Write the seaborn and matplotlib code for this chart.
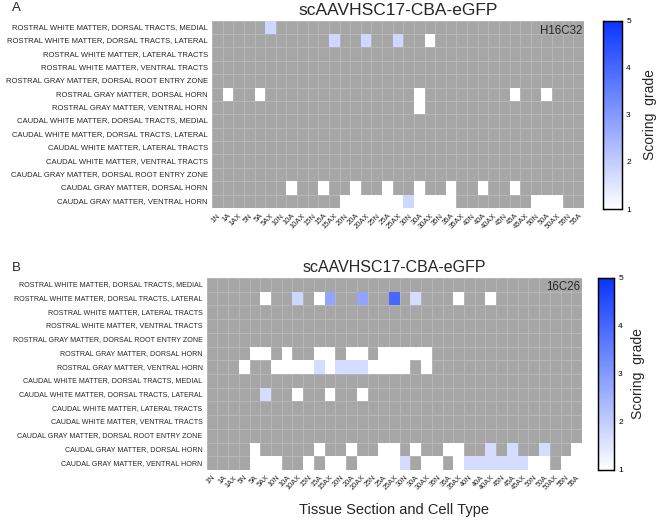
import numpy as np
import pandas as pd
import matplotlib
matplotlib.use("Agg")
import matplotlib.pyplot as plt
import seaborn as sns
from matplotlib.colors import LinearSegmentedColormap, ListedColormap

sns.set_theme(style="white")
plt.rcParams['font.family'] = ['Liberation Sans', 'DejaVu Sans']

cell_types = ["1N", "1A", "1AX", "5N", "5A", "5AX", "10N", "10A", "10AX",
              "15N", "15A", "15AX", "20N", "20A", "20AX", "25N", "25A", "25AX",
              "30N", "30A", "30AX", "35N", "35A", "35AX", "40N", "40A", "40AX",
              "45N", "45A", "45AX", "50N", "50A", "50AX", "55N", "55A"]

regions = ["ROSTRAL WHITE MATTER, DORSAL TRACTS, MEDIAL",
           "ROSTRAL WHITE MATTER, DORSAL TRACTS, LATERAL",
           "ROSTRAL WHITE MATTER, LATERAL TRACTS",
           "ROSTRAL WHITE MATTER, VENTRAL TRACTS",
           "ROSTRAL GRAY MATTER, DORSAL ROOT ENTRY ZONE",
           "ROSTRAL GRAY MATTER, DORSAL HORN",
           "ROSTRAL GRAY MATTER, VENTRAL HORN",
           "CAUDAL WHITE MATTER, DORSAL TRACTS, MEDIAL",
           "CAUDAL WHITE MATTER, DORSAL TRACTS, LATERAL",
           "CAUDAL WHITE MATTER, LATERAL TRACTS",
           "CAUDAL WHITE MATTER, VENTRAL TRACTS",
           "CAUDAL GRAY MATTER, DORSAL ROOT ENTRY ZONE",
           "CAUDAL GRAY MATTER, DORSAL HORN",
           "CAUDAL GRAY MATTER, VENTRAL HORN"]

# Panel A (H16C32): scored cells per region row (unlisted = not assessed)
scores_A = [
    {"5AX": 1.8},
    {"15AX": 1.8, "20AX": 1.8, "25AX": 1.8, "30AX": 1},
    {}, {}, {},
    {"1A": 1, "5A": 1, "30A": 1, "45A": 1, "50A": 1},
    {"30A": 1},
    {}, {}, {}, {}, {},
    {"10A": 1, "15A": 1, "20A": 1, "25A": 1, "30A": 1, "35A": 1, "40A": 1, "45A": 1},
    {"20N": 1, "20A": 1, "20AX": 1, "25N": 1, "25A": 1, "25AX": 1, "30N": 1.8,
     "30A": 1, "30AX": 1, "35N": 1, "35A": 1, "50N": 1, "50A": 1, "50AX": 1},
]

# Panel B (16C26)
scores_B = [
    {},
    {"5AX": 1, "10AX": 1.8, "15A": 1, "15AX": 2.8, "20AX": 2.8, "25AX": 4.0,
     "30A": 1.7, "35AX": 1, "40AX": 1},
    {}, {}, {},
    {"5A": 1, "5AX": 1, "10A": 1, "15A": 1, "15AX": 1, "20A": 1, "20AX": 1,
     "25A": 1, "25AX": 1, "30N": 1, "30A": 1, "30AX": 1},
    {"5N": 1, "10N": 1, "10A": 1, "10AX": 1, "15N": 1, "15A": 1.7, "15AX": 1,
     "20N": 1.7, "20A": 1.7, "20AX": 1.7, "25N": 1, "25A": 1, "25AX": 1, "30N": 1,
     "30AX": 1},
    {},
    {"5AX": 1.7, "10AX": 1, "15AX": 1, "20AX": 1},
    {}, {}, {},
    {"5A": 1, "15A": 1, "20A": 1, "25A": 1, "25AX": 1, "30A": 1, "35A": 1,
     "35AX": 1, "40AX": 1.7, "45A": 1.7, "50A": 1.7, "55A": 1},
    {"5A": 1, "5AX": 1, "10N": 1, "15N": 1, "15AX": 1, "20N": 1, "20AX": 1,
     "25N": 1, "25A": 1, "25AX": 1, "30N": 1.7, "30AX": 1, "35N": 1, "35AX": 1,
     "40N": 1.7, "40A": 1.7, "40AX": 1.7, "45N": 1.7, "45A": 1.7, "45AX": 1.7,
     "50N": 1, "50A": 1, "55N": 1, "55A": 1},
]

title = "scAAVHSC17-CBA-eGFP"


def to_frame(scores):
    df = pd.DataFrame(np.nan, index=regions, columns=cell_types)
    for r, d in zip(regions, scores):
        for c, v in d.items():
            df.loc[r, c] = v
    return df


cmap = LinearSegmentedColormap.from_list("wb", ["#ffffff", "#0a35ff"])
gray_cmap = ListedColormap(["#a6a6a6"])

fig = plt.figure(figsize=(6.57, 5.22), dpi=100)
W, H = 657.0, 522.0


def ax_at(x0, y0, x1, y1):
    return fig.add_axes([x0 / W, 1 - y1 / H, (x1 - x0) / W, (y1 - y0) / H])


panels = [
    dict(scores=scores_A, box=(212, 20.7, 584, 208), cbox=(603, 20.7, 622, 209),
         title_fs=12.5, tag="H16C32", tag_y=31, letter="A", letter_y=8, lpad=9,
         xlabel=False, yfs=5.5, xfs=5.5),
    dict(scores=scores_B, box=(206.7, 278, 582, 470), cbox=(598, 278, 614, 470),
         title_fs=11.5, tag="16C26", tag_y=287, letter="B", letter_y=268, lpad=6,
         xlabel=True, yfs=5.15, xfs=5.3),
]

for p in panels:
    df = to_frame(p["scores"])
    ax = ax_at(*p["box"])
    cax = ax_at(*p["cbox"])
    missing = df.isna()
    sns.heatmap(pd.DataFrame(0.0, index=regions, columns=cell_types), mask=~missing,
                cmap=gray_cmap, cbar=False, linewidths=0.6, linecolor="#b6b6b6",
                ax=ax)
    sns.heatmap(df, mask=missing, cmap=cmap, vmin=1, vmax=5, ax=ax, cbar_ax=cax,
                cbar_kws={"ticks": [1, 2, 3, 4, 5]})
    ax.set_xticks(np.arange(len(cell_types)) + 0.5)
    ax.set_xticklabels(cell_types, rotation=45, ha="right", rotation_mode="anchor",
                       fontsize=p["xfs"])
    ax.set_yticks(np.arange(len(regions)) + 0.5)
    ax.set_yticklabels(regions, rotation=0, fontsize=p["yfs"])
    ax.tick_params(axis="both", length=0, pad=3)
    ax.set_ylabel("")
    ax.set_xlabel("Tissue Section and Cell Type" if p["xlabel"] else "",
                  fontsize=10.5, labelpad=8)
    ax.set_title(title, fontsize=p["title_fs"], pad=4)
    x0, y0, x1, y1 = p["box"]
    fig.text((x1 - 2) / W, 1 - p["tag_y"] / H, p["tag"], fontsize=8.3,
             ha="right", va="center")
    fig.text(12 / W, 1 - p["letter_y"] / H, p["letter"], fontsize=9.5,
             ha="left", va="center")
    # colorbar styling
    for s in cax.spines.values():
        s.set_visible(True)
        s.set_color("black")
        s.set_linewidth(0.9)
    cax.tick_params(direction="in", left=True, right=True, length=2.5,
                    width=0.8, labelsize=6, pad=3, colors="black")
    cax.set_ylabel("Scoring  grade", fontsize=10, labelpad=p["lpad"])

fig.savefig("out.png", dpi=100)
